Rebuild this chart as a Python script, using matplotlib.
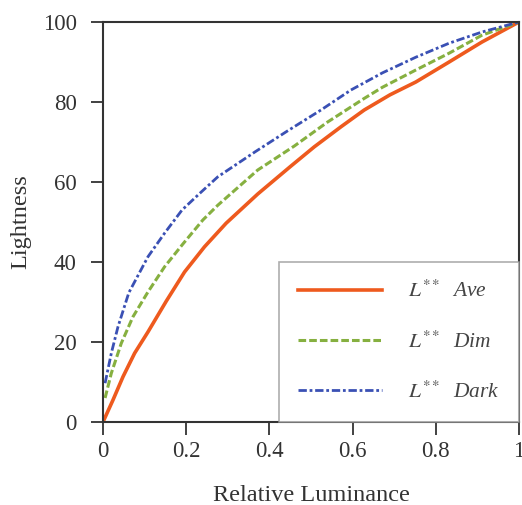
import matplotlib
matplotlib.use("Agg")
import matplotlib.pyplot as plt

plt.rcParams['font.family'] = ['Liberation Serif', 'DejaVu Serif']
plt.rcParams['mathtext.fontset'] = 'stix'

# values (relative luminance -> lightness)
ave_x = [0, 0.024, 0.048, 0.076, 0.108, 0.152, 0.196, 0.244, 0.296, 0.372,
         0.452, 0.508, 0.572, 0.628, 0.69, 0.752, 0.832, 0.911, 1.0]
ave_y = [0, 5.5, 11.3, 17.2, 22.5, 30.2, 37.5, 43.8, 49.7, 57,
         64, 68.8, 73.8, 78, 81.8, 85, 90, 95, 100]

dim_x = [0.005, 0.02, 0.044, 0.072, 0.108, 0.148, 0.192, 0.24, 0.276, 0.372,
         0.46, 0.54, 0.628, 0.672, 0.752, 0.832, 0.911, 1.0]
dim_y = [6, 12.2, 19.7, 26.3, 32.5, 38.8, 44.5, 50.5, 54.2, 63,
         69, 75, 80.9, 83.7, 88, 92.2, 96.7, 100]

dark_x = [0.005, 0.02, 0.036, 0.062, 0.108, 0.148, 0.19, 0.233, 0.276, 0.365,
          0.444, 0.524, 0.596, 0.672, 0.752, 0.832, 0.911, 1.0]
dark_y = [9.7, 17.2, 23.8, 32.3, 41.3, 47.2, 53, 57.2, 61.3, 67.5,
          72.8, 78, 83, 87.3, 91.2, 94.7, 97.5, 100]

labels = [r'$L^{**}$  Ave', r'$L^{**}$  Dim', r'$L^{**}$  Dark']
xticks = [0, 0.2, 0.4, 0.6, 0.8, 1]
xticklabels = ['0', '0.2', '0.4', '0.6', '0.8', '1']
yticks = [0, 20, 40, 60, 80, 100]

fig = plt.figure(figsize=(5.22, 5.05), dpi=100)
ax = fig.add_axes([103 / 522, 83 / 505, 416 / 522, 400 / 505])

ax.plot(ave_x, ave_y, color='#EE5A1E', lw=2.6, label=labels[0])
ax.plot(dim_x, dim_y, color='#86B040', lw=2.2, ls=(0, (2.5, 1)), label=labels[1])
ax.plot(dark_x, dark_y, color='#3A50B4', lw=2.0, ls=(0, (3, 1, 1, 1)), label=labels[2])

ax.set_xlim(0, 1)
ax.set_ylim(0, 100)
ax.set_xticks(xticks)
ax.set_xticklabels(xticklabels)
ax.set_yticks(yticks)
ax.tick_params(direction='out', length=9, width=1.3, labelsize=16.5,
               color='#333333', labelcolor='#333333')
ax.tick_params(axis='x', pad=5)
ax.tick_params(axis='y', pad=10)
for s in ax.spines.values():
    s.set_linewidth(1.5)
    s.set_color('#333333')

ax.set_xlabel('Relative Luminance', fontsize=17.5, color='#333333', labelpad=16)
ax.set_ylabel('Lightness', fontsize=17.5, color='#333333', labelpad=8)

leg = ax.legend(loc='lower right', frameon=True, fancybox=False, borderaxespad=0,
                handlelength=3.9, handletextpad=1.25, labelspacing=1.35,
                borderpad=0.9, prop={'style': 'italic', 'size': 15.4})
leg.get_frame().set_edgecolor('#999999')
leg.get_frame().set_linewidth(1.2)
for t in leg.get_texts():
    t.set_color('#444444')

plt.savefig('out.png', dpi=100)
